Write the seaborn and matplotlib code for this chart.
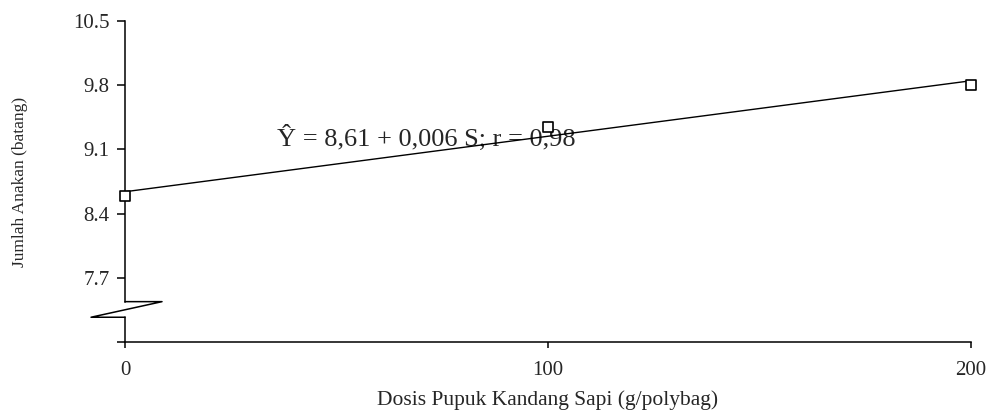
import numpy as np
import pandas as pd
import matplotlib
matplotlib.use("Agg")
import matplotlib.pyplot as plt
import matplotlib.transforms as mtransforms
import seaborn as sns

# data
dosis = [0, 100, 200]
anakan = [8.59, 9.34, 9.80]
y_ticks = [7.0, 7.7, 8.4, 9.1, 9.8, 10.5]
y_tick_labels = ["", "7.7", "8.4", "9.1", "9.8", "10.5"]
x_ticks = [0, 100, 200]
equation = "Ŷ = 8,61 + 0,006 S; r = 0,98"

df = pd.DataFrame({"dosis": dosis, "anakan": anakan})

sns.set_style("ticks")
plt.rcParams["font.family"] = ["Liberation Serif", "DejaVu Serif"]

fig = plt.figure(figsize=(9.94, 4.13), dpi=100)
ax = fig.add_axes([0.1258, 0.1719, 0.8511, 0.7773])

sns.regplot(x="dosis", y="anakan", data=df, ax=ax, ci=None, truncate=True,
            marker="s",
            scatter_kws={"s": 50, "facecolor": "white", "edgecolor": "black",
                         "linewidths": 1.2, "clip_on": False, "zorder": 4, "alpha": 1},
            line_kws={"color": "black", "linewidth": 1.0, "zorder": 3})

ax.set_xlim(0, 200)
ax.set_ylim(7.0, 10.5)
ax.set_xticks(x_ticks)
ax.set_xticklabels([str(v) for v in x_ticks])
ax.set_yticks(y_ticks)
ax.set_yticklabels(y_tick_labels)

ax.tick_params(axis="y", direction="out", length=6, width=1.1, labelsize=15, pad=5, color="black")
ax.tick_params(axis="x", direction="out", length=4, width=1.1, labelsize=15, pad=10, color="black")

sns.despine(ax=ax)
for side in ["left", "bottom"]:
    ax.spines[side].set_color("black")
    ax.spines[side].set_linewidth(1.1)

# axis break on the y-axis
brk_top, brk_bot = 7.44, 7.27
ax.spines["left"].set_bounds(brk_top, 10.5)
trans = mtransforms.blended_transform_factory(ax.transAxes, ax.transData)
ax.plot([0, 0], [7.0, brk_bot], color="black", lw=1.1, transform=trans, clip_on=False)
ax.plot([0, 0.0437, -0.0402, 0], [brk_top, brk_top, brk_bot, brk_bot],
        color="black", lw=1.1, transform=trans, clip_on=False)

ax.text(36, 9.23, equation, fontsize=19, ha="left", va="center", zorder=2)

ax.set_xlabel("Dosis Pupuk Kandang Sapi (g/polybag)", fontsize=15.5)
ax.set_ylabel("Jumlah Anakan (batang)", fontsize=12.5)
ax.yaxis.set_label_coords(-0.115, 0.5)
ax.xaxis.set_label_coords(0.5, -0.15)

fig.savefig("out.png", dpi=100)
